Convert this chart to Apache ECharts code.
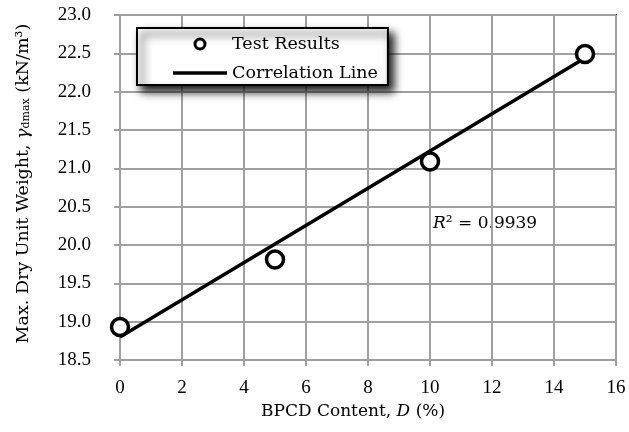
<!DOCTYPE html>
<html>
<head>
<meta charset="utf-8">
<script src="https://cdn.jsdelivr.net/npm/echarts@6/dist/echarts.min.js"></script>
<style>
  html, body { margin: 0; padding: 0; background: #fff; }
  #chart { width: 629px; height: 432px; }
</style>
</head>
<body>
<div id="chart"></div>
<script>
// 试验数据
var contentX = [0, 5, 10, 15];
var weightY = [18.93, 19.81, 21.09, 22.49];
// 拟合线两端
var lineX = [0, 15];
var lineY = [18.80, 22.44];
var r2Text = '0.9939';

var fontName = 'DejaVu Serif';
var tickFont = 'Liberation Serif';
var gridColor = '#a0a0a0';

var chart = echarts.init(document.getElementById('chart'));
chart.setOption({
    backgroundColor: '#fff',
    animation: false,
    grid: {
        left: 120,
        right: 13,
        top: 15,
        bottom: 72,
        show: true,
        borderColor: '#000',
        borderWidth: 2
    },
    legend: {
        left: 137,
        top: 28,
        orient: 'vertical',
        padding: [6, 10, 2, 36],
        itemGap: 9,
        itemWidth: 54,
        itemHeight: 10,
        backgroundColor: '#fff',
        borderColor: '#000',
        borderWidth: 2,
        shadowColor: 'rgba(0,0,0,0.9)',
        shadowBlur: 8,
        shadowOffsetX: 5,
        shadowOffsetY: 6,
        textStyle: { fontFamily: fontName, fontSize: 17.5, color: '#000', lineHeight: 20 },
        data: [
            { name: 'Test Results', itemStyle: { color: '#fff', borderColor: '#000', borderWidth: 3 } },
            { name: 'Correlation Line', icon: 'path://M0,0 L54,0 L54,3.5 L0,3.5 Z', itemStyle: { color: '#000' } }
        ]
    },
    xAxis: {
        type: 'value',
        min: 0,
        max: 16,
        interval: 2,
        name: '{n|BPCD Content, }{i|D}{n| (%)}',
        nameLocation: 'middle',
        nameGap: 43,
        nameTextStyle: {
            padding: [0, 30, 0, 0],
            rich: {
                n: { fontFamily: fontName, fontSize: 17, color: '#000' },
                i: { fontFamily: fontName, fontSize: 17, color: '#000', fontStyle: 'italic' }
            }
        },
        axisLine: { show: true, onZero: false, lineStyle: { color: gridColor, width: 2 } },
        axisTick: { show: true, inside: false, length: 6, lineStyle: { color: gridColor, width: 2 } },
        axisLabel: { fontFamily: tickFont, fontSize: 19, color: '#000', margin: 19 },
        splitLine: { show: true, lineStyle: { color: gridColor, width: 2 } }
    },
    yAxis: {
        type: 'value',
        min: 18.5,
        max: 23,
        interval: 0.5,
        name: '{n|Max. Dry Unit Weight, }{i|γ}{s|dmax}{n| (kN/m³)}',
        nameLocation: 'middle',
        nameGap: 88,
        nameTextStyle: {
            padding: [0, 0, 0, 8],
            rich: {
                n: { fontFamily: fontName, fontSize: 17.5, color: '#000' },
                i: { fontFamily: fontName, fontSize: 17.5, color: '#000', fontStyle: 'italic' },
                s: { fontFamily: fontName, fontSize: 11, color: '#000', verticalAlign: 'bottom', padding: [6, 0, 0, 0] }
            }
        },
        axisLine: { show: true, onZero: false, lineStyle: { color: gridColor, width: 2 } },
        axisTick: { show: true, inside: false, length: 6, lineStyle: { color: gridColor, width: 2 } },
        axisLabel: {
            fontFamily: tickFont, fontSize: 19, color: '#000', margin: 29,
            formatter: function (v) { return v.toFixed(1); }
        },
        splitLine: { show: true, lineStyle: { color: gridColor, width: 2 } }
    },
    graphic: [{
        type: 'text',
        left: 433,
        top: 215,
        style: {
            text: '{i|R}{n|² = ' + r2Text + '}',
            rich: {
                i: { fontFamily: fontName, fontSize: 17, fill: '#000', fontStyle: 'italic' },
                n: { fontFamily: fontName, fontSize: 17, fill: '#000' }
            }
        }
    }],
    series: [{
        name: 'Correlation Line',
        type: 'line',
        symbol: 'none',
        lineStyle: { color: '#000', width: 3.5 },
        itemStyle: { color: '#000' },
        z: 2,
        data: lineX.map(function (x, i) { return [x, lineY[i]]; })
    }, {
        name: 'Test Results',
        type: 'scatter',
        symbol: 'circle',
        symbolSize: 17,
        itemStyle: { color: '#fff', borderColor: '#000', borderWidth: 3.5, opacity: 1 },
        z: 3,
        data: contentX.map(function (x, i) { return [x, weightY[i]]; })
    }]
});
</script>
</body>
</html>
